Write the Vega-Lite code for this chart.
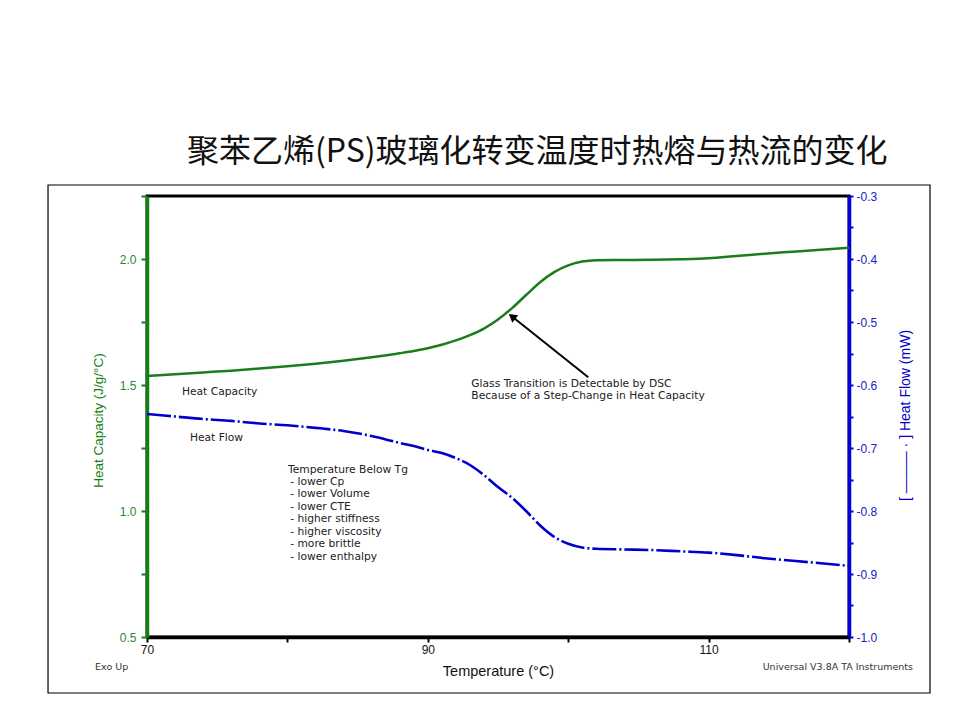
{
  "$schema": "https://vega.github.io/schema/vega-lite/v6.json",
  "width": 702,
  "height": 441,
  "autosize": {"type": "none"},
  "padding": {"left": 147, "top": 196, "right": 111, "bottom": 83},
  "background": "white",
  "title": {
    "text": "聚苯乙烯(PS)玻璃化转变温度时热熔与热流的变化",
    "font": "Noto Sans CJK SC",
    "fontSize": 32,
    "fontWeight": "normal",
    "color": "#111111",
    "anchor": "start",
    "frame": "group",
    "dx": 40,
    "dy": 47,
    "offset": 37,
    "baseline": "alphabetic"
  },
  "config": {
    "view": {"stroke": "black", "strokeWidth": 3},
    "axis": {"grid": false}
  },
  "datasets": {
    "dsc": [
      {"T": 70, "Cp": 1.536, "HF": -0.646},
      {"T": 72, "Cp": 1.543, "HF": -0.650},
      {"T": 74, "Cp": 1.550, "HF": -0.654},
      {"T": 76, "Cp": 1.557, "HF": -0.657},
      {"T": 78, "Cp": 1.565, "HF": -0.661},
      {"T": 80, "Cp": 1.574, "HF": -0.664},
      {"T": 82, "Cp": 1.584, "HF": -0.668},
      {"T": 84, "Cp": 1.596, "HF": -0.673},
      {"T": 86, "Cp": 1.610, "HF": -0.681},
      {"T": 88, "Cp": 1.626, "HF": -0.692},
      {"T": 89, "Cp": 1.635, "HF": -0.697},
      {"T": 90, "Cp": 1.646, "HF": -0.703},
      {"T": 91, "Cp": 1.660, "HF": -0.708},
      {"T": 92, "Cp": 1.677, "HF": -0.716},
      {"T": 93, "Cp": 1.698, "HF": -0.727},
      {"T": 94, "Cp": 1.724, "HF": -0.743},
      {"T": 95, "Cp": 1.760, "HF": -0.762},
      {"T": 96, "Cp": 1.805, "HF": -0.779},
      {"T": 97, "Cp": 1.857, "HF": -0.800},
      {"T": 98, "Cp": 1.908, "HF": -0.823},
      {"T": 99, "Cp": 1.948, "HF": -0.841},
      {"T": 100, "Cp": 1.975, "HF": -0.852},
      {"T": 101, "Cp": 1.990, "HF": -0.858},
      {"T": 102, "Cp": 1.995, "HF": -0.860},
      {"T": 104, "Cp": 1.996, "HF": -0.861},
      {"T": 106, "Cp": 1.997, "HF": -0.862},
      {"T": 108, "Cp": 1.999, "HF": -0.864},
      {"T": 110, "Cp": 2.003, "HF": -0.866},
      {"T": 112, "Cp": 2.012, "HF": -0.870},
      {"T": 114, "Cp": 2.021, "HF": -0.875},
      {"T": 116, "Cp": 2.029, "HF": -0.879},
      {"T": 118, "Cp": 2.037, "HF": -0.883},
      {"T": 120, "Cp": 2.045, "HF": -0.887}
    ],
    "notes": [
      {"T": 72.49, "Cp": 1.4734, "text": "Heat Capacity"},
      {"T": 73.06, "Cp": 1.2885, "text": "Heat Flow"},
      {"T": 93.1, "Cp": 1.504, "text": "Glass Transition is Detectable by DSC"},
      {"T": 93.1, "Cp": 1.4575, "text": "Because of a Step-Change in Heat Capacity"},
      {"T": 80.04, "Cp": 1.163, "text": "Temperature Below Tg"},
      {"T": 80.2, "Cp": 1.115, "text": "- lower Cp"},
      {"T": 80.2, "Cp": 1.0655, "text": "- lower Volume"},
      {"T": 80.2, "Cp": 1.016, "text": "- lower CTE"},
      {"T": 80.2, "Cp": 0.967, "text": "- higher stiffness"},
      {"T": 80.2, "Cp": 0.918, "text": "- higher viscosity"},
      {"T": 80.2, "Cp": 0.868, "text": "- more brittle"},
      {"T": 80.2, "Cp": 0.819, "text": "- lower enthalpy"}
    ],
    "footer": [
      {"T": 66.3, "Cp": 0.3798, "side": "left", "text": "Exo Up"},
      {"T": 124.56, "Cp": 0.3798, "side": "right", "text": "Universal V3.8A TA Instruments"}
    ],
    "arrow": [
      {"T": 101.43, "Cp": 1.5306, "T2": 96.0, "Cp2": 1.772}
    ]
  },
  "resolve": {"scale": {"y": "independent"}},
  "layer": [
    {
      "layer": [
        {
          "data": {"values": [{}]},
          "mark": {"type": "rect", "filled": false, "stroke": "black", "strokeWidth": 1.2},
          "encoding": {
            "x": {"datum": 62.95, "type": "quantitative", "scale": {"domain": [70, 120], "nice": false, "zero": false}},
            "x2": {"datum": 125.77},
            "y": {"datum": 2.2937, "type": "quantitative", "scale": {"domain": [0.5, 2.25], "nice": false, "zero": false}},
            "y2": {"datum": 0.2778}
          }
        },
        {
          "data": {"name": "dsc"},
          "mark": {"type": "line", "color": "#1a7d1a", "strokeWidth": 2.5, "interpolate": "monotone"},
          "encoding": {
            "x": {
              "field": "T", "type": "quantitative",
              "scale": {"domain": [70, 120], "nice": false, "zero": false},
              "axis": {
                "title": "Temperature (°C)",
                "values": [70, 80, 90, 100, 110, 120],
                "labelExpr": "datum.value % 20 == 10 ? format(datum.value, 'd') : ''",
                "grid": false,
                "domainColor": "black", "domainWidth": 3.5,
                "tickColor": "black", "tickWidth": 2, "tickSize": 5,
                "labelFont": "Liberation Sans", "labelFontSize": 12, "labelColor": "#111111",
                "labelPadding": 2, "labelFlush": false, "labelOverlap": false,
                "titleFont": "Liberation Sans", "titleFontSize": 14.5, "titleFontWeight": "normal",
                "titleColor": "#111111", "titleY": 38, "titleBaseline": "alphabetic"
              }
            },
            "y": {
              "field": "Cp", "type": "quantitative",
              "scale": {"domain": [0.5, 2.25], "nice": false, "zero": false},
              "axis": {
                "title": "Heat Capacity (J/g/°C)",
                "values": [0.5, 0.75, 1, 1.25, 1.5, 1.75, 2, 2.25],
                "labelExpr": "round(datum.value * 100) % 50 == 0 ? format(datum.value, '.1f') : ''",
                "grid": false,
                "domainColor": "#138013", "domainWidth": 3.5,
                "tickColor": "#138013", "tickWidth": 2, "tickSize": 6,
                "labelFont": "Liberation Sans", "labelFontSize": 12, "labelColor": "#2a8a2a",
                "labelPadding": 5, "labelOverlap": false,
                "titleFont": "Liberation Sans", "titleFontSize": 13.5, "titleFontWeight": "normal",
                "titleColor": "#138013", "titleX": -49, "titleY": 224, "titleBaseline": "middle", "titleAngle": 270
              }
            }
          }
        },
        {
          "data": {"name": "notes"},
          "mark": {"type": "text", "align": "left", "baseline": "middle", "font": "DejaVu Sans", "fontSize": 10.7, "color": "#222222"},
          "encoding": {
            "x": {"field": "T", "type": "quantitative", "scale": {"domain": [70, 120], "nice": false, "zero": false}},
            "y": {"field": "Cp", "type": "quantitative", "scale": {"domain": [0.5, 2.25], "nice": false, "zero": false}},
            "text": {"field": "text"}
          }
        },
        {
          "data": {"name": "footer"},
          "transform": [{"filter": "datum.side == 'left'"}],
          "mark": {"type": "text", "align": "left", "baseline": "middle", "font": "DejaVu Sans", "fontSize": 9.5, "color": "#333333"},
          "encoding": {
            "x": {"field": "T", "type": "quantitative", "scale": {"domain": [70, 120], "nice": false, "zero": false}},
            "y": {"field": "Cp", "type": "quantitative", "scale": {"domain": [0.5, 2.25], "nice": false, "zero": false}},
            "text": {"field": "text"}
          }
        },
        {
          "data": {"name": "footer"},
          "transform": [{"filter": "datum.side == 'right'"}],
          "mark": {"type": "text", "align": "right", "baseline": "middle", "font": "DejaVu Sans", "fontSize": 9.5, "color": "#333333"},
          "encoding": {
            "x": {"field": "T", "type": "quantitative", "scale": {"domain": [70, 120], "nice": false, "zero": false}},
            "y": {"field": "Cp", "type": "quantitative", "scale": {"domain": [0.5, 2.25], "nice": false, "zero": false}},
            "text": {"field": "text"}
          }
        },
        {
          "data": {"name": "arrow"},
          "mark": {"type": "rule", "color": "black", "strokeWidth": 2},
          "encoding": {
            "x": {"field": "T", "type": "quantitative", "scale": {"domain": [70, 120], "nice": false, "zero": false}},
            "y": {"field": "Cp", "type": "quantitative", "scale": {"domain": [0.5, 2.25], "nice": false, "zero": false}},
            "x2": {"field": "T2"},
            "y2": {"field": "Cp2"}
          }
        },
        {
          "data": {"name": "arrow"},
          "mark": {"type": "point", "shape": "triangle-up", "filled": true, "color": "black", "size": 90, "angle": 308.6, "opacity": 1},
          "encoding": {
            "x": {"field": "T2", "type": "quantitative", "scale": {"domain": [70, 120], "nice": false, "zero": false}},
            "y": {"field": "Cp2", "type": "quantitative", "scale": {"domain": [0.5, 2.25], "nice": false, "zero": false}}
          }
        }
      ]
    },
    {
      "data": {"name": "dsc"},
      "mark": {"type": "line", "color": "#0000cc", "strokeWidth": 2.6, "strokeDash": [24, 3, 2, 3], "interpolate": "monotone"},
      "encoding": {
        "x": {"field": "T", "type": "quantitative", "scale": {"domain": [70, 120], "nice": false, "zero": false}},
        "y": {
          "field": "HF", "type": "quantitative",
          "scale": {"domain": [-1, -0.3], "nice": false, "zero": false},
          "axis": {
            "orient": "right",
            "title": "[ ——— · ]  Heat Flow (mW)",
            "values": [-1, -0.95, -0.9, -0.85, -0.8, -0.75, -0.7, -0.65, -0.6, -0.55, -0.5, -0.45, -0.4, -0.35, -0.3],
            "labelExpr": "round(datum.value * 100) % 10 == 0 ? '-' + format(abs(datum.value), '.1f') : ''",
            "grid": false,
            "domainColor": "#0000dd", "domainWidth": 3.5,
            "tickColor": "#0000dd", "tickWidth": 2, "tickSize": 4,
            "labelFont": "Liberation Sans", "labelFontSize": 12, "labelColor": "#2222bb",
            "labelPadding": 3, "labelOverlap": false,
            "titleFont": "Liberation Sans", "titleFontSize": 14, "titleFontWeight": "normal",
            "titleColor": "#0000cc", "titleX": 56, "titleY": 219, "titleBaseline": "middle", "titleAngle": 270
          }
        }
      }
    }
  ]
}
